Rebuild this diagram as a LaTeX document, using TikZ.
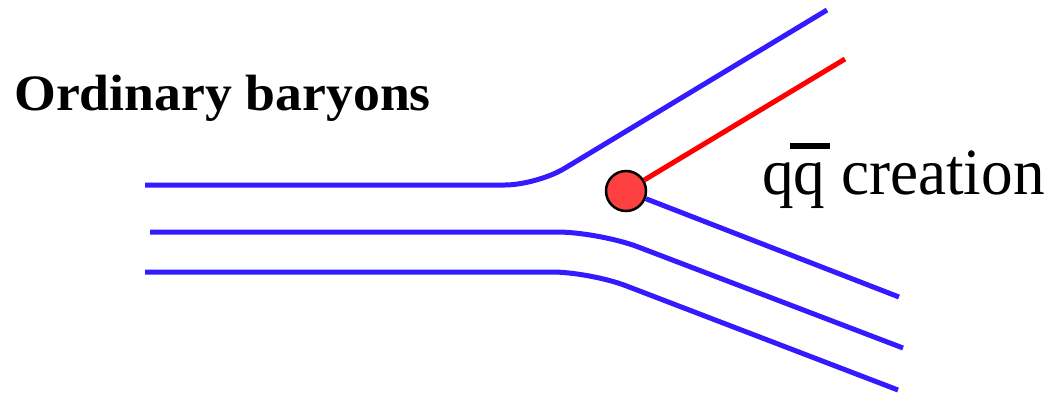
\documentclass[tikz,border=0pt]{standalone}
\usepackage{fontspec}
\setmainfont{Liberation Serif}
\definecolor{qblue}{RGB}{51,26,255}
\definecolor{qred}{RGB}{255,0,0}
\definecolor{dotred}{RGB}{255,64,64}
\begin{document}
\begin{tikzpicture}[x=1pt,y=-1pt,
  quark/.style={line width=5pt,draw=qblue},
  antiq/.style={line width=5pt,draw=qred},
  vertex/.style={circle,draw=black,line width=2.5pt,fill=dotred,minimum size=40pt,inner sep=0pt},
  lab/.style={inner sep=0pt,anchor=base west}]
\useasboundingbox (0,0) rectangle (1062,394);
% top quark line
\coordinate (a0) at (145,185);
\coordinate (a1) at (537,185);
\coordinate (a2) at (827,10);
\draw[quark,rounded corners=32pt] (a0) -- (a1) -- (a2);
% middle quark line
\coordinate (b0) at (150,232);
\coordinate (b1) at (599,232);
\coordinate (b2) at (903,348);
\draw[quark,rounded corners=42pt] (b0) -- (b1) -- (b2);
% bottom quark line
\coordinate (c0) at (145,272);
\coordinate (c1) at (590,272);
\coordinate (c2) at (898,390);
\draw[quark,rounded corners=38pt] (c0) -- (c1) -- (c2);
% vertex
\node[vertex] (v) at (626,191) {};
\coordinate (qend) at (899,297);
\coordinate (aqend) at (845,59);
\draw[quark] (v) -- (qend);
\draw[antiq] (v) -- (aqend);
% labels
\node[lab,font=\fontsize{51}{58}\selectfont\bfseries,xscale=1.054] (ob) at (14,110) {Ordinary baryons};
\node[lab,font=\fontsize{66}{74}\selectfont,xscale=0.957] (qq) at (762,194) {qq creation};
\fill[black] (790,143) rectangle (830,149);
\end{tikzpicture}
\end{document}
